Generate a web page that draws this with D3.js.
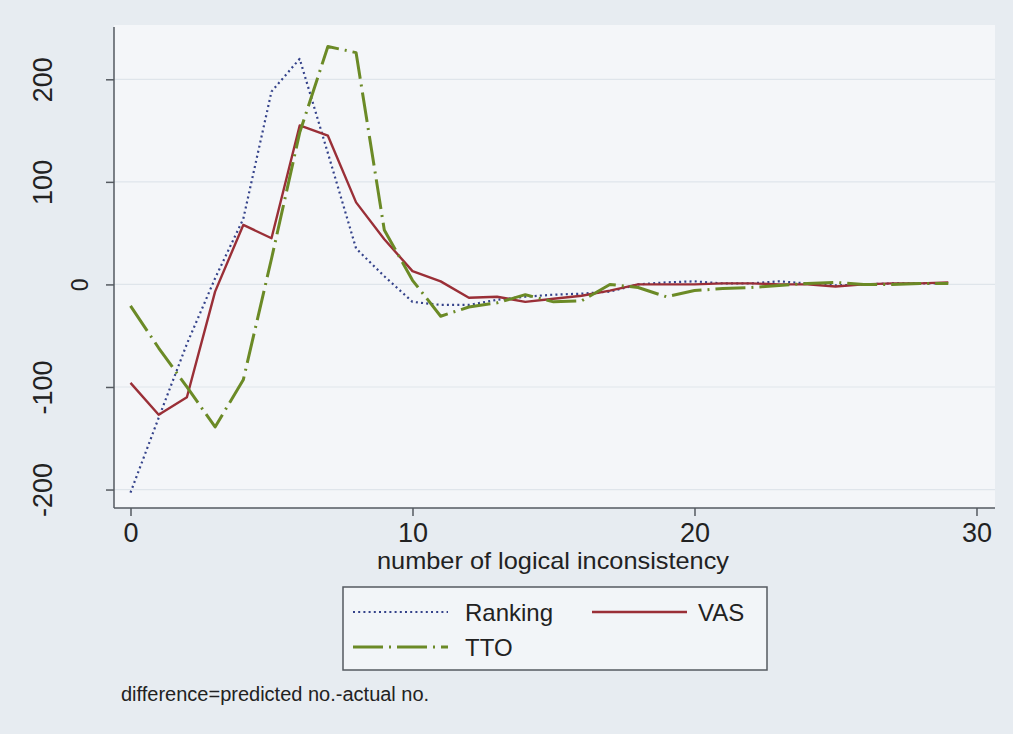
<!DOCTYPE html>
<html>
<head>
<meta charset="utf-8">
<script src="https://cdn.jsdelivr.net/npm/d3@7"></script>
<style>
  html, body { margin: 0; padding: 0; background: #e8edf2; }
  svg { display: block; font-family: "Liberation Sans", Arial, sans-serif; }
</style>
</head>
<body>
<svg id="chart" width="1013" height="734"></svg>
<script>
// number of logical inconsistencies (x) and the difference predicted - actual (y)
const inconsistency = d3.range(0, 30);
const ranking = [-203, -130, -58, 6, 64, 188, 220, 128, 35, 8, -17, -20, -20, -15, -12, -10, -9, -7, 0, 2, 3, 1, 1, 3, 1, -1, 0, 1, 1, 1];
const vas     = [-96, -127, -110, -7, 58, 45, 155, 145, 80, 44, 13, 3, -13, -12, -17, -14, -11, -6, 0, 0, 0, 1, 1, 0, 0, -2, 0, 1, 1, 2];
const tto     = [-21, -62, -100, -139, -93, 25, 148, 232, 226, 53, 4, -31, -22, -18, -10, -17, -16, 0, -3, -12, -6, -4, -3, -1, 1, 2, 0, 0, 1, 1];

const xTicks = [0, 10, 20, 30];
const yTicks = [-200, -100, 0, 100, 200];
const seriesNames = ["Ranking", "VAS", "TTO"];

const xTitle = "number of logical inconsistency";
const note = "difference=predicted no.-actual no.";

(function draw() {
  const svg = d3.select("#chart");
  const W = 1013, H = 734;

  // plot region
  const pLeft = 114, pRight = 992, pTop = 27, pBottom = 508, regionRight = 995;

  const x = d3.scaleLinear().domain([-0.585, 30.55]).range([pLeft, pRight]);
  const y = d3.scaleLinear().domain([-218, 251]).range([pBottom, pTop]);

  svg.append("rect").attr("width", W).attr("height", H).attr("fill", "#e7ecf1");
  svg.append("rect")
    .attr("x", pLeft).attr("y", pTop - 2)
    .attr("width", regionRight - pLeft).attr("height", pBottom - pTop + 2)
    .attr("fill", "#f4f6f9");

  // horizontal grid
  svg.append("g").selectAll("line").data(yTicks).join("line")
    .attr("x1", pLeft).attr("x2", regionRight)
    .attr("y1", d => y(d)).attr("y2", d => y(d))
    .attr("stroke", "#dfe5eb").attr("stroke-width", 1.2);

  const styles = {
    Ranking: { color: "#34428a", width: 2.2, dash: "2,3.2" },
    VAS:     { color: "#9a2f37", width: 2.4, dash: null },
    TTO:     { color: "#6b8a26", width: 3, dash: "30,6,2,6" }
  };
  const values = { Ranking: ranking, VAS: vas, TTO: tto };

  const line = d3.line().x((d, i) => x(inconsistency[i])).y(d => y(d));

  seriesNames.forEach(name => {
    const s = styles[name];
    svg.append("path")
      .datum(values[name])
      .attr("d", line)
      .attr("fill", "none")
      .attr("stroke", s.color)
      .attr("stroke-width", s.width)
      .attr("stroke-linejoin", "round")
      .attr("stroke-dasharray", s.dash);
  });

  // axes
  const axisColor = "#555a60";
  const yAxis = svg.append("g")
    .attr("transform", `translate(${pLeft},0)`)
    .call(d3.axisLeft(y).tickValues(yTicks).tickSize(8).tickFormat(d => String(d)));
  const xAxis = svg.append("g")
    .attr("transform", `translate(0,${pBottom})`)
    .call(d3.axisBottom(x).tickValues(xTicks).tickSize(8).tickFormat(d => String(d)));

  [yAxis, xAxis].forEach(g => {
    g.select(".domain").remove();
    g.selectAll(".tick line").attr("stroke", axisColor).attr("stroke-width", 1.5);
    g.selectAll("text").attr("fill", "#222").attr("font-family", '"Liberation Sans", Arial, sans-serif');
  });

  svg.append("line").attr("x1", pLeft).attr("x2", pLeft).attr("y1", pTop).attr("y2", pBottom)
    .attr("stroke", axisColor).attr("stroke-width", 1.5);
  svg.append("line").attr("x1", pLeft).attr("x2", regionRight).attr("y1", pBottom).attr("y2", pBottom)
    .attr("stroke", axisColor).attr("stroke-width", 1.5);

  // vertical y labels; the zero label sits beside the axis
  yAxis.selectAll(".tick text")
    .attr("x", null).attr("dy", null)
    .attr("text-anchor", "middle")
    .attr("font-size", d => d === 0 ? 23 : 27)
    .attr("transform", d => d === 0 ? "translate(-26,0) rotate(-90)" : "translate(-62,0) rotate(-90)");

  xAxis.selectAll(".tick text")
    .attr("y", 34).attr("dy", null)
    .attr("font-size", 27);

  // axis title
  svg.append("text")
    .attr("x", 553).attr("y", 569)
    .attr("text-anchor", "middle")
    .attr("font-size", 24).attr("fill", "#222")
    .attr("textLength", 352).attr("lengthAdjust", "spacingAndGlyphs")
    .text(xTitle);

  // legend
  const legend = svg.append("g");
  legend.append("rect")
    .attr("x", 343).attr("y", 587).attr("width", 424).attr("height", 83)
    .attr("fill", "#f2f5f8").attr("stroke", "#555a60").attr("stroke-width", 1.5);

  const legendItems = [
    { name: seriesNames[0], lx: 353, ly: 612, tx: 465 },
    { name: seriesNames[1], lx: 592, ly: 612, tx: 698 },
    { name: seriesNames[2], lx: 353, ly: 647, tx: 465 }
  ];
  legendItems.forEach(it => {
    const s = styles[it.name];
    legend.append("line")
      .attr("x1", it.lx).attr("x2", it.lx + 95)
      .attr("y1", it.ly).attr("y2", it.ly)
      .attr("stroke", s.color).attr("stroke-width", s.width)
      .attr("stroke-dasharray", s.dash);
    legend.append("text")
      .attr("x", it.tx).attr("y", it.ly + 9)
      .attr("font-size", 24).attr("fill", "#222")
      .text(it.name);
  });

  // footnote
  svg.append("text")
    .attr("x", 121).attr("y", 701)
    .attr("font-size", 20).attr("fill", "#222")
    .text(note);
})();
</script>
</body>
</html>
